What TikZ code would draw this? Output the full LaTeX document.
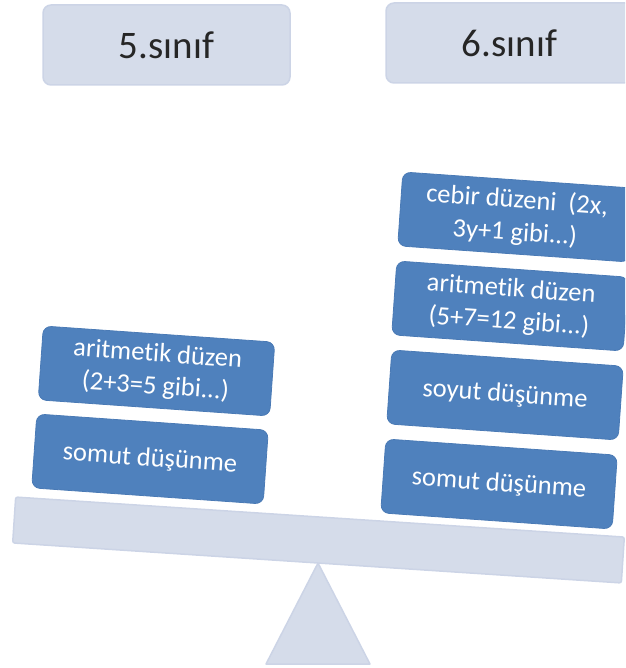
\documentclass[tikz,border=0pt]{standalone}
\usepackage{fontspec}
\setmainfont[Ligatures={NoCommon,NoContextual}]{Carlito}
\definecolor{paleblue}{HTML}{D5DCEA}
\definecolor{paleedge}{HTML}{CCD4E6}
\definecolor{boxblue}{HTML}{4F81BD}
\definecolor{boxedge}{HTML}{4A7AB5}
\begin{document}
\begin{tikzpicture}[x=1pt,y=-1pt,
  header/.style={draw=paleedge, line width=1.5pt, fill=paleblue, rounded corners=8pt,
    minimum width=247pt, minimum height=80pt, inner sep=0pt,
    font=\fontsize{39}{47}\selectfont, text=black!85},
  card/.style={draw=boxedge, line width=0.8pt, fill=boxblue, rounded corners=8pt,
    minimum width=232pt, minimum height=74pt, inner sep=0pt, rotate=-4,
    align=center, text=white, font=\fontsize{26.5}{32.5}\selectfont},
  scalepart/.style={draw=paleedge, line width=1.5pt, fill=paleblue, line join=round}]
\useasboundingbox (0,0) rectangle (625,668);
\clip (0,0) rectangle (625,668);

% class headers
\node[header] (h5) at (166.5,45) {5.sınıf};
\node[header] (h6) at (509.5,43) {6.sınıf};

% balance: pivot and beam
\coordinate (apex) at (318,563);
\coordinate (baseL) at (266,664);
\coordinate (baseR) at (370,664);
\draw[scalepart] (apex) -- (baseR) -- (baseL) -- cycle;
\node[scalepart, rounded corners=2pt, minimum width=610pt, minimum height=46pt,
  inner sep=0pt, rotate=-3.76] (beam) at (318.5,540) {};

% left pan
\node[card] (l1) at (150,459) {somut düşünme};
\node[card] (l2) at (156.5,371) {aritmetik düzen\\(2+3=5 gibi...)};

% right pan
\node[card] (r1) at (499,484) {somut düşünme};
\node[card] (r2) at (505,395) {soyut düşünme};
\node[card] (r3) at (510,306) {aritmetik düzen\\(5+7=12 gibi...)};
\node[card] (r4) at (516,217) {cebir düzeni \ (2x,\\3y+1 gibi...)};
\end{tikzpicture}
\end{document}
